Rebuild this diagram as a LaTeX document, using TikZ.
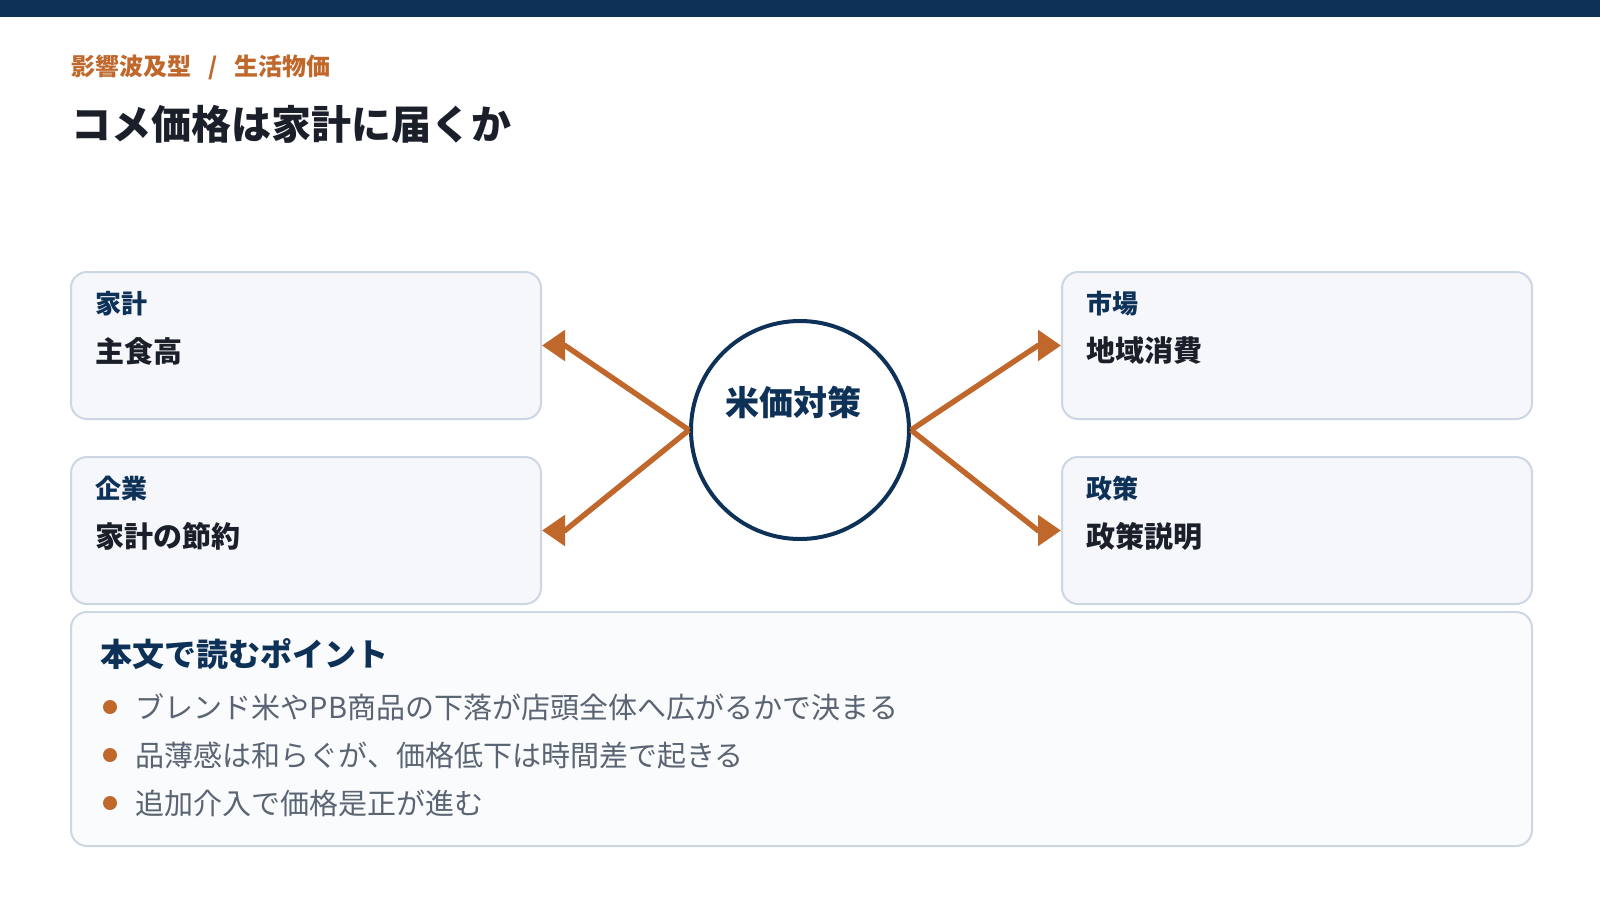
\documentclass[tikz,border=0pt]{standalone}
\usepackage{fontspec}
\setmainfont{Noto Sans CJK JP}
\usetikzlibrary{calc, positioning, arrows.meta}
\definecolor{DeepNavy}{RGB}{14, 49, 88}
\definecolor{RiceCopper}{RGB}{192, 104, 44}
\definecolor{InkDark}{RGB}{26, 31, 41}
\definecolor{MutedGrey}{RGB}{90, 100, 114}
\definecolor{CardFill}{RGB}{245, 247, 251}
\definecolor{CardEdge}{RGB}{205, 214, 227}
\definecolor{NoteFill}{RGB}{250, 251, 253}

\tikzset{
  card/.style={draw=CardEdge, line width=1pt, fill=CardFill, rounded corners=8pt,
    minimum width=235pt, minimum height=73.5pt, anchor=north west, inner sep=0pt},
  cardtag/.style={anchor=west, inner sep=0pt, text=DeepNavy,
    font=\bfseries\fontsize{13pt}{15pt}\selectfont},
  cardvalue/.style={anchor=west, inner sep=0pt, text=InkDark,
    font=\bfseries\fontsize{14.5pt}{17pt}\selectfont},
  flow/.style={RiceCopper, line width=2.7pt, -{Triangle[length=11.5pt, width=15pt]}},
  bulletdot/.style={circle, fill=RiceCopper, inner sep=0pt, minimum size=7pt},
  bullettext/.style={anchor=west, inner sep=0pt, text=MutedGrey,
    font=\fontsize{14.5pt}{17pt}\selectfont},
}

\begin{document}
\begin{tikzpicture}[x=0.5pt, y=-0.5pt]
    \useasboundingbox (0,0) rectangle (1600,900);
    % Kopfzeile
    \fill[DeepNavy] (0,0) rectangle (1600,17);
    \node[anchor=west, inner sep=0pt, text=RiceCopper, font=\bfseries\fontsize{12pt}{14pt}\selectfont]
        (crumb) at (71,67) {影響波及型\hspace{0.7em}/\hspace{0.7em}生活物価};
    \node[anchor=west, inner sep=0pt, text=InkDark, font=\bfseries\fontsize{20pt}{24pt}\selectfont]
        (title) at (71,124) {コメ価格は家計に届くか};

    % Karten
    \node[card] (household) at (70,271) {};
    \node[card] (firms) at (70,456) {};
    \node[card] (market) at (1061,271) {};
    \node[card] (policy) at (1061,456) {};
    \node[cardtag] (householdtag) at (95,304) {家計};
    \node[cardvalue] (householdval) at (95,351) {主食高};
    \node[cardtag] (firmstag) at (95,489) {企業};
    \node[cardvalue] (firmsval) at (95,536) {家計の節約};
    \node[cardtag] (markettag) at (1086,304) {市場};
    \node[cardvalue] (marketval) at (1086,351) {地域消費};
    \node[cardtag] (policytag) at (1086,489) {政策};
    \node[cardvalue] (policyval) at (1086,536) {政策説明};

    % Zentrum
    \node[circle, draw=DeepNavy, line width=2pt, fill=white, minimum size=109pt, inner sep=0pt]
        (hub) at (800,430) {};
    \node[inner sep=0pt, text=DeepNavy, font=\bfseries\fontsize{17pt}{20pt}\selectfont]
        (hublabel) at (793,402) {米価対策};

    % Pfeile
    \draw[flow] (hub.west) -- ($(household.east)+(23,0)$) -- (household.east);
    \draw[flow] (hub.west) -- ($(firms.east)+(23,0)$) -- (firms.east);
    \draw[flow] (hub.east) -- ($(market.west)+(-23,0)$) -- (market.west);
    \draw[flow] (hub.east) -- ($(policy.west)+(-23,0)$) -- (policy.west);

    % Hinweise
    \node[draw=CardEdge, line width=1pt, fill=NoteFill, rounded corners=8pt,
        minimum width=730.5pt, minimum height=117pt, anchor=north west] (notes) at (70,611) {};
    \node[anchor=west, inner sep=0pt, text=DeepNavy, font=\bfseries\fontsize{16pt}{19pt}\selectfont]
        (notehead) at (100,654) {本文で読むポイント};
    \foreach \txt [count=\i] in {ブレンド米やPB商品の下落が店頭全体へ広がるかで決まる,
        品薄感は和らぐが、価格低下は時間差で起きる, 追加介入で価格是正が進む} {
        \node[bulletdot] (dot\i) at (110,{707+48*(\i-1)}) {};
        \node[bullettext, right=9pt of dot\i] (point\i) {\txt};
    }
\end{tikzpicture}
\end{document}
